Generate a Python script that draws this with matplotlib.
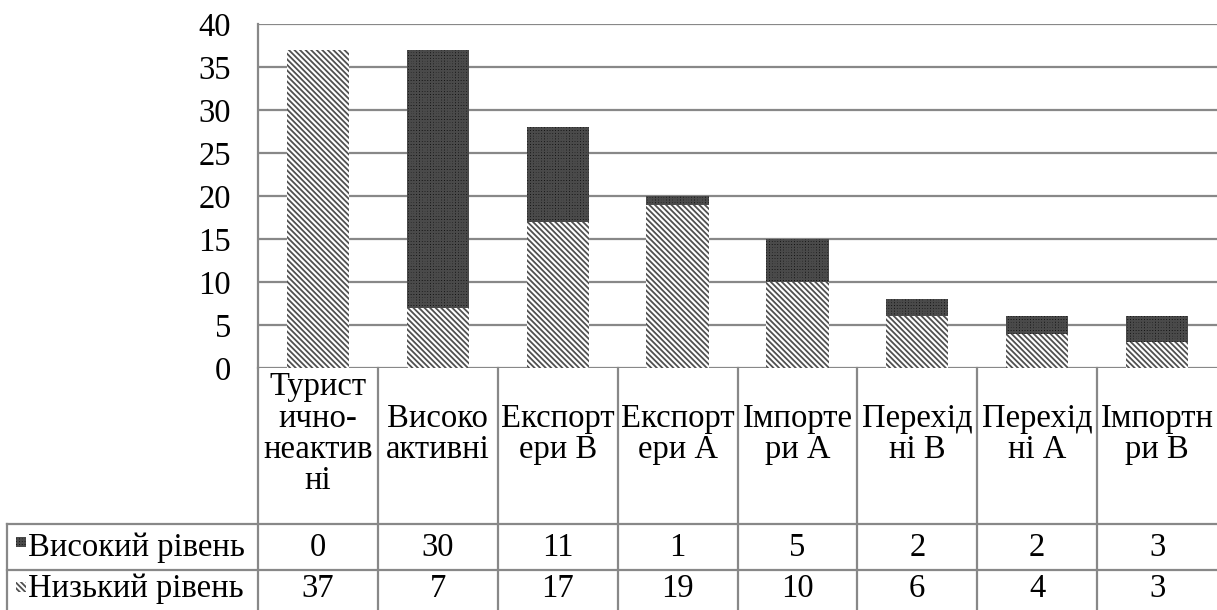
import matplotlib
matplotlib.use("Agg")
import matplotlib.pyplot as plt
from matplotlib.patches import Rectangle
from matplotlib.lines import Line2D

categories = ["Турист\nично-\nнеактив\nні", "Високо\nактивні", "Експорт\nери В", "Експорт\nери А",
              "Імпорте\nри А", "Перехід\nні В", "Перехід\nні А", "Імпортн\nри В"]
high_level = [0, 30, 11, 1, 5, 2, 2, 3]
low_level = [37, 7, 17, 19, 10, 6, 4, 3]
series_names = ["Високий рівень", "Низький рівень"]
yticks = [0, 5, 10, 15, 20, 25, 30, 35, 40]

W, H = 1217, 610
plt.rcParams['font.family'] = ['Liberation Serif', 'DejaVu Serif']
plt.rcParams['hatch.linewidth'] = 1.3
FS = 23.5
GRID = '#888888'

fig = plt.figure(figsize=(W / 100, H / 100), dpi=100)

def fx(px):
    return px / W

def fy(py):
    return 1 - py / H

ax_l, ax_r, ax_t, ax_b = 258, 1217, 24, 368
ax = fig.add_axes([fx(ax_l), fy(ax_b), fx(ax_r - ax_l), fy(ax_t) - fy(ax_b)])

x = list(range(len(categories)))
low_style = dict(facecolor='white', edgecolor='#505050', hatch='\\' * 6, linewidth=0)
high_style = dict(facecolor='#0a0a0a', edgecolor='#4a4a4a', hatch='+' * 6, linewidth=0)
ax.bar(x, low_level, width=0.52, **low_style, zorder=2)
ax.bar(x, high_level, width=0.52, bottom=low_level, **high_style, zorder=2)

ax.set_xlim(-0.5, len(categories) - 0.5)
ax.set_ylim(0, 40)
ax.set_yticks(yticks)
ax.set_yticklabels([str(v) for v in yticks], fontsize=FS)
ax.tick_params(axis='y', length=0, pad=19.5)
ax.set_xticks([])
ax.yaxis.grid(True, color=GRID, linewidth=1.6)
ax.set_axisbelow(True)
for s in ['top', 'right', 'bottom']:
    ax.spines[s].set_visible(False)
ax.spines['left'].set_color(GRID)
ax.spines['left'].set_linewidth(1.6)

# table
col_w = (ax_r - ax_l) / len(categories)
hdr_top, hdr_bot = ax_b, 524
row_bot1, row_bot2 = 570, 616

def hline(x0, x1, y):
    fig.add_artist(Line2D([fx(x0), fx(x1)], [fy(y), fy(y)], color=GRID, linewidth=1.6))

def vline(xp, y0, y1):
    fig.add_artist(Line2D([fx(xp), fx(xp)], [fy(y0), fy(y1)], color=GRID, linewidth=1.6))

hline(7, W, hdr_bot)
hline(7, W, row_bot1)
vline(7, hdr_bot, H)
for i in range(len(categories)):
    vline(ax_l + i * col_w, hdr_top, H)

for i, cat in enumerate(categories):
    cx = ax_l + (i + 0.5) * col_w
    fig.text(fx(cx), fy(434), cat, ha='center', va='center',
             fontsize=FS, linespacing=1.03)
    fig.text(fx(cx), fy(548), str(high_level[i]), ha='center', va='center', fontsize=FS)
    fig.text(fx(cx), fy(589), str(low_level[i]), ha='center', va='center', fontsize=FS)

# legend keys
for (name, style, yc) in [(series_names[0], high_style, 542),
                          (series_names[1], low_style, 587)]:
    fig.add_artist(Rectangle((fx(16), fy(yc + 5)), fx(10), fy(yc - 5) - fy(yc + 5), **style))
    fig.text(fx(28), fy(yc + 6 if yc < 560 else yc + 2), name, ha='left', va='center', fontsize=FS)

fig.savefig('out.png', dpi=100)
